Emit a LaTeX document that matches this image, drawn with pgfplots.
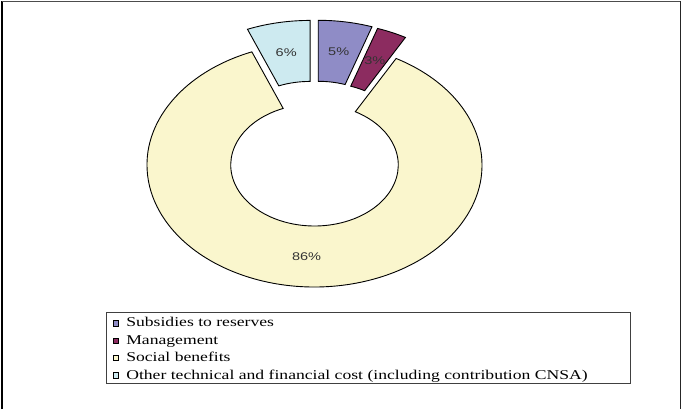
\documentclass[border=0pt]{standalone}
\usepackage{fontspec}
\setmainfont{Liberation Serif}[FakeStretch=1.31]
\newfontfamily\labelfont{Liberation Sans}[FakeStretch=1.3]
\usepackage{pgfplots}
\usepackage{pgfplotstable}
\pgfplotsset{compat=1.18}

\definecolor{subsidies}{RGB}{143,140,198}
\definecolor{management}{RGB}{140,44,96}
\definecolor{social}{RGB}{250,246,205}
\definecolor{other}{RGB}{205,234,240}

% share in percent, explosion in px
\pgfplotstableread{
name value explode
Subsidies 5.2 23
Management 2.9 23
Social 85.8 0
Other 6.1 23
}\piedata

% #1 start angle, #2 end angle, #3 explosion, #4 colour
\newcommand\slice[4]{%
  \filldraw[fill=#4, draw=black, line width=0.9bp]
    (axis cs:{cos(#1)+#3*cos((#1+#2)/2)/167.5},{sin(#1)+#3*sin((#1+#2)/2)/122})
    arc[start angle=#1, end angle=#2, x radius=167.5bp, y radius=122bp]
    -- (axis cs:{0.5*cos(#2)+#3*cos((#1+#2)/2)/167.5},{0.5*sin(#2)+#3*sin((#1+#2)/2)/122})
    arc[start angle=#2, end angle=#1, x radius=83.75bp, y radius=61bp]
    -- cycle;
}
% #1 start, #2 end, #3 explosion, #4 value
\newcommand\slicelabel[4]{%
  \node[font=\labelfont\fontsize{11.2}{12}\selectfont, text=black!80, inner sep=0pt]
    at (axis cs:{0.75*cos((#1+#2)/2)+#3*cos((#1+#2)/2)/167.5},{0.75*sin((#1+#2)/2)+#3*sin((#1+#2)/2)/122})
    {\pgfmathprintnumber[fixed,precision=0,assume math mode=true]{#4}\%};
}

\begin{document}
\begin{tikzpicture}
\pgfplotstablegetelem{0}{value}\of\piedata \let\vA\pgfplotsretval
\pgfplotstablegetelem{1}{value}\of\piedata \let\vB\pgfplotsretval
\pgfplotstablegetelem{2}{value}\of\piedata \let\vC\pgfplotsretval
\pgfplotstablegetelem{3}{value}\of\piedata \let\vD\pgfplotsretval
\pgfplotstablegetelem{0}{explode}\of\piedata \let\eA\pgfplotsretval
\pgfplotstablegetelem{1}{explode}\of\piedata \let\eB\pgfplotsretval
\pgfplotstablegetelem{2}{explode}\of\piedata \let\eC\pgfplotsretval
\pgfplotstablegetelem{3}{explode}\of\piedata \let\eD\pgfplotsretval
\pgfmathsetmacro\aA{90}
\pgfmathsetmacro\aB{\aA-3.6*\vA}
\pgfmathsetmacro\aC{\aB-3.6*\vB}
\pgfmathsetmacro\aD{\aC-3.6*\vC}
\pgfmathsetmacro\aE{\aD-3.6*\vD}
\begin{axis}[
    x=167.5bp, y=122bp,
    xmin=-1.87761, xmax=2.18806,
    ymin=-2, ymax=1.35246,
    hide axis, clip=false,
    legend cell align=left,
    legend image code/.code={\draw[#1, draw=black, line width=0.6bp] (0bp,-2.7bp) rectangle (5.7bp,2.6bp);},
    legend style={at={(0.16520,0.23154)}, anchor=north west, draw=none, fill=none,
        inner sep=0pt, row sep=0pt, column sep=7.3bp,
        font=\fontsize{13.5}{16}\selectfont,
        nodes={inner sep=0pt, text height=12.4bp, text depth=5bp}},
]
\path (rel axis cs:0,0) rectangle (rel axis cs:1,1);
\draw[black, line width=1.2bp] (rel axis cs:0.00294,0) -- (rel axis cs:0.00294,0.99707);
\draw[black!70, line width=1bp] (rel axis cs:0.00294,0.99707) -- (rel axis cs:0.99853,0.99707);
\draw[black!85, line width=1bp] (rel axis cs:0.99853,0.99707) -- (rel axis cs:0.99853,0);
\draw[black!75, line width=0.9bp] (rel axis cs:0.15565,0.06284) rectangle (rel axis cs:0.92511,0.23643);

\slice{\aA}{\aB}{\eA}{subsidies}
\slice{\aB}{\aC}{\eB}{management}
\slice{\aC}{\aD}{\eC}{social}
\slice{\aD}{\aE}{\eD}{other}
\slicelabel{\aA}{\aB}{\eA}{\vA}
\slicelabel{\aB}{\aC}{\eB}{\vB}
\slicelabel{\aC}{\aD}{\eC}{\vC}
\slicelabel{\aD}{\aE}{\eD}{\vD}

\addlegendimage{fill=subsidies}
\addlegendimage{fill=management}
\addlegendimage{fill=social}
\addlegendimage{fill=other}
\legend{Subsidies to reserves, Management, Social benefits, Other technical and financial cost (including contribution CNSA)}
\end{axis}
\end{tikzpicture}
\end{document}
